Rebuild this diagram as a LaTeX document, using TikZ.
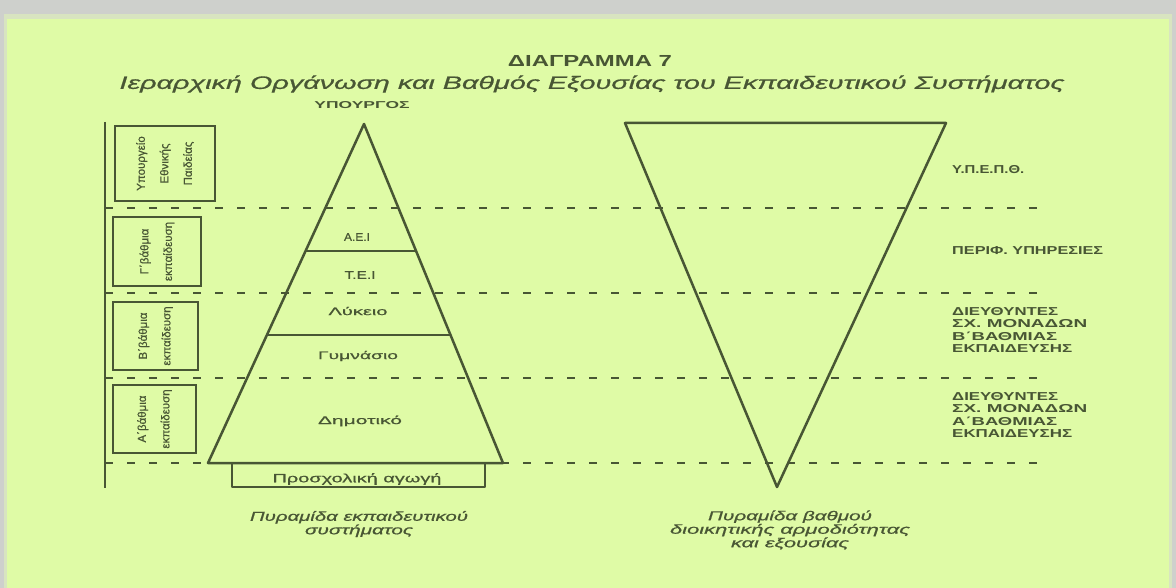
\documentclass[tikz,border=0pt]{standalone}
\usepackage{fontspec}
\setmainfont{Liberation Sans}
\newfontfamily\scan{Liberation Sans}[FakeBold=0.6]
\usetikzlibrary{calc}
\definecolor{bg}{RGB}{223,251,166}
\definecolor{ink}{RGB}{72,86,52}
\definecolor{bordergray}{RGB}{206,208,204}
\definecolor{bordermid}{RGB}{216,228,192}
\newcommand\sw[2]{\resizebox{#1}{\height}{#2}}
\begin{document}
\begin{tikzpicture}[x=1pt,y=-1pt,
 lbl/.style={text=ink, inner sep=0pt},
 edge/.style={draw=ink, line width=2.5pt, line join=round},
 thinline/.style={draw=ink, line width=1.1pt},
 sepline/.style={draw=ink, line width=2pt, dash pattern=on 8pt off 14pt},
 lbox/.style={draw=ink, line width=1.6pt, rotate=90, align=center, text=ink, inner sep=0pt, font=\scan\fontsize{11.5}{23.5}\selectfont},
 rlab/.style={text=ink, inner sep=0pt, align=left, anchor=west, font=\bfseries\fontsize{11.5}{12.3}\selectfont},
 captxt/.style={text=ink, inner sep=0pt, align=center, font=\scan\itshape\fontsize{13}{12}\selectfont},
]
\useasboundingbox (0,0) rectangle (1176,588);
\fill[bordergray] (0,0) rectangle (1176,588);
\fill[bordermid] (4,14) rectangle (1172,588);
\fill[bg] (7,19) rectangle (1169,588);

% title
\node[lbl, font=\bfseries\fontsize{16}{18}\selectfont] (title) at (590,61) {\sw{164pt}{ΔΙΑΓΡΑΜΜΑ 7}};
\node[lbl, font=\scan\itshape\fontsize{18}{20}\selectfont] (subtitle) at (592,84) {\sw{945pt}{Ιεραρχική Οργάνωση και Βαθμός Εξουσίας του Εκπαιδευτικού Συστήματος}};
\node[lbl, font=\bfseries\fontsize{10}{12}\selectfont] (minister) at (362,105) {\sw{95pt}{ΥΠΟΥΡΓΟΣ}};

% left vertical rule and dashed level separators
\coordinate (vt) at (105,122);
\coordinate (vb) at (105,488);
\draw[edge, line width=2.8pt] (vt) -- (vb);
\foreach \yy in {208,293,378,463}{
  \draw[sepline] (105,\yy) -- (1045,\yy);
}

% left pyramid
\coordinate (A) at (364,124);
\coordinate (BL) at (208,463);
\coordinate (BR) at (503,463);
\draw[edge] (BL) -- (A) -- (BR) -- cycle;
\draw[thinline] ($(A)!0.3746!(BL)$) -- ($(A)!0.3746!(BR)$);
\draw[thinline] ($(A)!0.6224!(BL)$) -- ($(A)!0.6224!(BR)$);
\draw[edge, line width=2pt] (232,463) -- (232,487) -- (485,487) -- (485,463);

\node[lbl, font=\scan\fontsize{11}{12}\selectfont] (aei) at (357,237) {\sw{26pt}{Α.Ε.Ι}};
\node[lbl, font=\scan\fontsize{11}{12}\selectfont] (tei) at (360,275) {\sw{31pt}{Τ.Ε.Ι}};
\node[lbl, font=\scan\fontsize{11}{12}\selectfont] (lyk) at (358,311) {\sw{59pt}{Λύκειο}};
\node[lbl, font=\scan\fontsize{11}{12}\selectfont] (gym) at (358,356) {\sw{80pt}{Γυμνάσιο}};
\node[lbl, font=\scan\fontsize{11}{12}\selectfont] (dim) at (360,421) {\sw{84pt}{Δημοτικό}};
\node[lbl, font=\scan\fontsize{12}{12}\selectfont] (pro) at (357,479) {\sw{169pt}{Προσχολική αγωγή}};

\node[captxt] (capL) at (359,524) {\sw{218pt}{Πυραμίδα εκπαιδευτικού}\\\sw{108pt}{συστήματος}};

% right inverted pyramid
\coordinate (TL) at (625,123);
\coordinate (TR) at (946,123);
\coordinate (TB) at (777,487);
\draw[edge] (TL) -- (TR) -- (TB) -- cycle;

\node[captxt] (capR) at (790,530) {\sw{164pt}{Πυραμίδα βαθμού}\\\sw{240pt}{διοικητικής αρμοδιότητας}\\\sw{118pt}{και εξουσίας}};

% left boxes
\node[lbox, minimum width=75pt, minimum height=100pt] (b1) at (165,163.5) {Υπουργείο\\Εθνικής\\Παιδείας};
\node[lbox, minimum width=69pt, minimum height=88pt] (b2) at (157,251.5) {Γ΄βάθμια\\εκπαίδευση};
\node[lbox, minimum width=68pt, minimum height=85pt] (b3) at (155.5,336) {Β΄βάθμια\\εκπαίδευση};
\node[lbox, minimum width=68pt, minimum height=83pt] (b4) at (154.5,419) {Α΄βάθμια\\εκπαίδευση};

% right labels
\node[rlab] (r1) at (952,170) {\sw{72pt}{Υ.Π.Ε.Π.Θ.}};
\node[rlab] (r2) at (952,251) {\sw{151pt}{ΠΕΡΙΦ. ΥΠΗΡΕΣΙΕΣ}};
\node[rlab] (r3) at (952,330) {\sw{106pt}{ΔΙΕΥΘΥΝΤΕΣ}\\\sw{135pt}{ΣΧ. ΜΟΝΑΔΩΝ}\\\sw{105pt}{Β΄ΒΑΘΜΙΑΣ}\\\sw{120pt}{ΕΚΠΑΙΔΕΥΣΗΣ}};
\node[rlab] (r4) at (952,415) {\sw{106pt}{ΔΙΕΥΘΥΝΤΕΣ}\\\sw{135pt}{ΣΧ. ΜΟΝΑΔΩΝ}\\\sw{105pt}{Α΄ΒΑΘΜΙΑΣ}\\\sw{120pt}{ΕΚΠΑΙΔΕΥΣΗΣ}};
\end{tikzpicture}
\end{document}
